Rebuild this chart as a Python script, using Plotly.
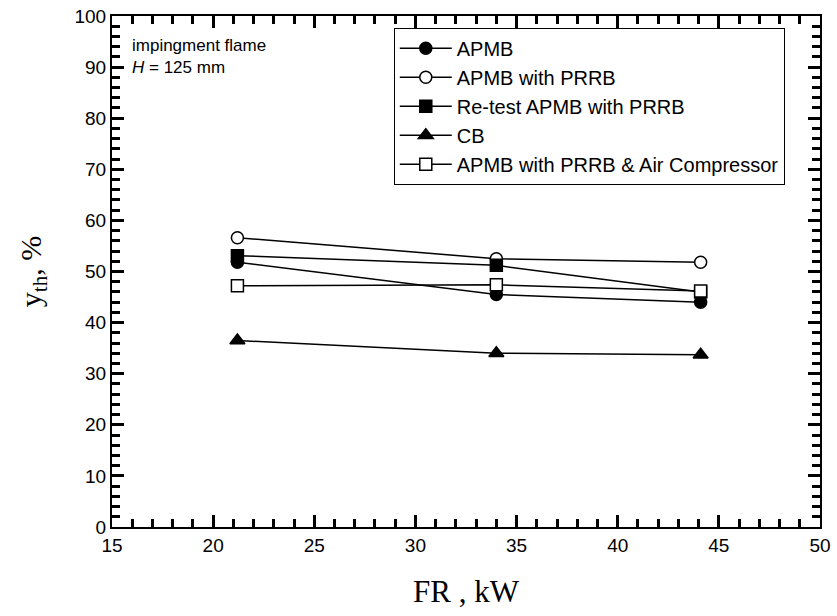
import plotly.graph_objects as go

fr = [21.2, 34.0, 44.1]
apmb = [51.8, 45.5, 44.0]
apmb_prrb = [56.6, 52.5, 51.8]
retest = [53.1, 51.2, 46.0]
cb = [36.5, 34.0, 33.7]
air_comp = [47.2, 47.4, 46.2]

series = [
    ("APMB", apmb, "circle"),
    ("APMB with PRRB", apmb_prrb, "circle-open"),
    ("Re-test APMB with PRRB", retest, "square"),
    ("CB", cb, "triangle-up"),
    ("APMB with PRRB & Air Compressor", air_comp, "square-open"),
]

fig = go.Figure()
for name, vals, sym in series:
    open_ = sym.endswith("open")
    fig.add_trace(go.Scatter(
        x=fr, y=vals, name=name, mode="lines+markers",
        line=dict(color="black", width=1.5),
        marker=dict(symbol=sym.replace("-open", ""), size=12 if "triangle" not in sym else 13,
                    color="white" if open_ else "black",
                    line=dict(color="black", width=1.5)),
    ))

axis_common = dict(
    showline=True, linecolor="black", linewidth=2, mirror="allticks",
    ticks="inside", tickwidth=3, ticklen=12, tickcolor="black",
    showgrid=False, zeroline=False, automargin=False,
    tickfont=dict(family="Liberation Sans, Arial", size=19, color="black"),
)

fig.update_xaxes(range=[15, 50], dtick=5, tick0=15,
                 minor=dict(dtick=1, ticks="inside", ticklen=8, tickwidth=3, tickcolor="black"),
                 title=dict(text="FR , kW", font=dict(family="Liberation Serif, Times New Roman", size=31, color="black"), standoff=26),
                 **axis_common)
fig.update_yaxes(range=[0, 100], dtick=10, tick0=0,
                 minor=dict(dtick=2, ticks="inside", ticklen=8, tickwidth=3, tickcolor="black"),
                 title=dict(text="y<sub>th</sub>, %", font=dict(family="Liberation Serif, Times New Roman", size=30, color="black"), standoff=24),
                 **axis_common)

fig.add_annotation(xref="paper", yref="paper", x=0.026, y=0.965, xanchor="left", yanchor="top",
                   text="impingment flame<br><i>H</i> = 125 mm", showarrow=False, align="left",
                   font=dict(family="Liberation Sans, Arial", size=17, color="black"))

fig.update_layout(
    width=837, height=616,
    margin=dict(l=112, r=17, t=16, b=89),
    plot_bgcolor="white", paper_bgcolor="white",
    showlegend=True,
    legend=dict(x=0.398, y=0.977, xanchor="left", yanchor="top",
                bgcolor="white", bordercolor="black", borderwidth=1,
                font=dict(family="Liberation Sans, Arial", size=20, color="black"),
                tracegroupgap=0, itemwidth=52),
)

fig.write_html("out.html", config={"displayModeBar": False},
               post_script="document.body.style.margin='0px';")
